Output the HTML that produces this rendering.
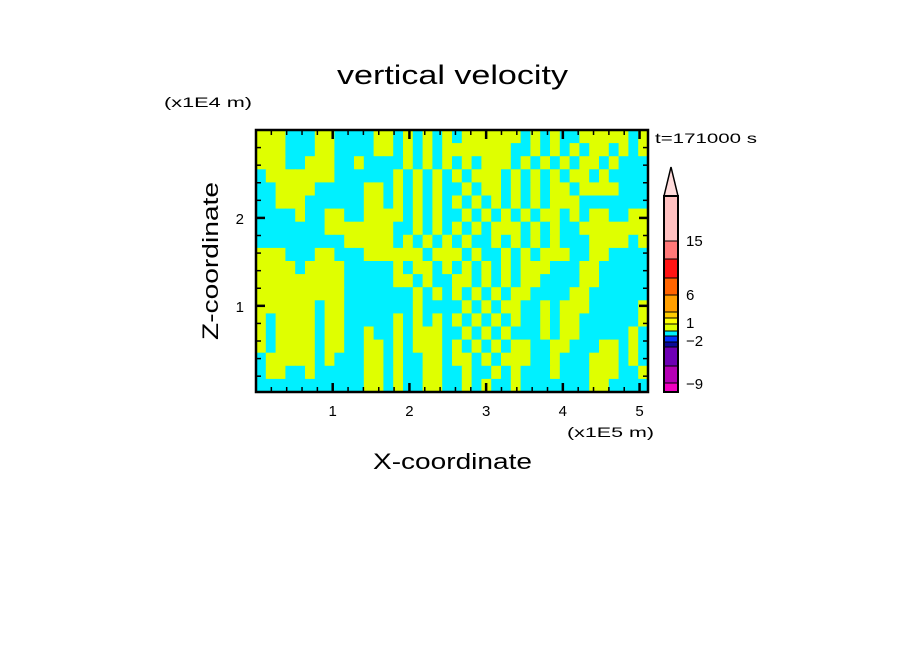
<!DOCTYPE html>
<html><head><meta charset="utf-8"><style>
html,body{margin:0;padding:0;background:#fff;}
svg{display:block;font-family:"Liberation Sans",sans-serif;}
</style></head><body>
<svg id="chart" width="904" height="654" viewBox="0 0 904 654" xmlns="http://www.w3.org/2000/svg">
<rect width="904" height="654" fill="#fff"/>
<text x="337" y="84" font-size="27" textLength="231" lengthAdjust="spacingAndGlyphs">vertical velocity</text>
<text x="164" y="107" font-size="14" textLength="88" lengthAdjust="spacingAndGlyphs">(x1E4 m)</text>
<text x="655" y="143" font-size="14" textLength="102" lengthAdjust="spacingAndGlyphs">t=171000 s</text>
<text x="567" y="437" font-size="14" textLength="87" lengthAdjust="spacingAndGlyphs">(x1E5 m)</text>
<text x="373" y="469" font-size="22" textLength="159" lengthAdjust="spacingAndGlyphs">X-coordinate</text>
<text transform="translate(218,340) rotate(-90)" font-size="22" textLength="158" lengthAdjust="spacingAndGlyphs">Z-coordinate</text>
<g id="field"></g>
<g id="axes"></g>
<g id="cbar"></g>
</svg>
<script>
// Field data: grid of sign classes (Y = weak positive, C = weak negative), top row first
const fieldRows = [
"YYYCCCYYCCCCYYCYCYCYCYYYYYYCYCYCCYYYYYCY",
"YYYCCCYYCCCCYYCYCYCYYYYYYYCCYCYCYCYYCYCY",
"YYYCCYYYCCYCCCCYCYCYCYCYYYCYCYCYCYYCYCCC",
"CYYYYYYYCCCCCCYCYCYCYCYYYCYCYCYCYYCYCCCC",
"CCYYYYCCCCCYYCYCYCYCCYCYYCYCYCYYCYYYYCCC",
"CCYYYCCCCCCYYCYCYCYCYCYCYCYCYCYYYCCCCCCC",
"CCCCYCCYYCCYYYYCYCYCCYCYCYCYCYYCYCYYCCYY",
"CCCCCCCYYYYYYYCCYCYCYCYCYYYCYCYCCYYYYYYY",
"CCCCCCCCCYYYYYCYCYCYCYCCYCYCYCYCCCYYYYCY",
"YYYCCCYYCCCYYYYYYCYYYCYCCYCYCYYYCCYYCCCC",
"YYYYCYYYYCCCCCYCYYCYCYCYCYCYYYCCCYYCCCCC",
"YYYYYYYYYCCCCCYYCYCCYYCYCYCYYCCCCYYCCCCC",
"YYYYYYYYYCCCCCCCYCYCYCYCYCYYCCCCYYCCCCCC",
"YYYYYYCYYCCCCCCCYCCCCYCYCYYCCYCYYYCCCCCY",
"YCYYYYCYYCCCCCYCYCYCYCYCYCYCCYCYYCCCCCCY",
"YCYYYYCYYCCYCCYCYYYCCYCYCYCCCYCYYCCCCCYC",
"YCYYYYCYYCCYYCYCYYYCYCYCYCYYCCYYCCCYYCYC",
"CYYYYYCYCCCYYCYCCYYCYYCYCYYYCCYCCCYYYCYC",
"CYYCCYCCCCCYYCYCCYYCCYCCYCYCCCYCCCYYYCCY",
"CCCCCCCCCCCYYCYCCYYCCYCYCCYCCCCCCCYYCCCC"
];
const classColors = {Y:"#dfff00", C:"#00f0ff"};
// Axis data
const xTicks = [1,2,3,4,5];
const yTicks = [1,2];
const xRange = [0.0, 5.11];
const yRange = [0.02, 3.0];
// Colorbar data (top to bottom)
const cbColors = ["#ffc0c0","#ff7878","#ff1414","#ff6400","#ff9f00","#ffcc00","#ffff00","#dfff00","#00f0ff","#0032ff","#0a0a96","#6e00b4","#b400b4","#f000c0"];
const cbBounds = [196,241,259,278,295,312,318,324,331,336,342,347,366,383,392];
const cbLabels = ["15","6","1","\u22122","\u22129"];
const cbLabelY = [241,295,323,341,384];

const NS="http://www.w3.org/2000/svg";
const PX0=256, PX1=648, PY0=130, PY1=392;
function sx(v){return PX0+(v-xRange[0])/(xRange[1]-xRange[0])*(PX1-PX0);}
function sy(v){return PY1-(v-yRange[0])/(yRange[1]-yRange[0])*(PY1-PY0);}
function mk(tag,attrs,parent){const e=document.createElementNS(NS,tag);for(const k in attrs)e.setAttribute(k,attrs[k]);parent.appendChild(e);return e;}

const field=document.getElementById('field');
const nr=fieldRows.length, nc=fieldRows[0].length;
const cw=(PX1-PX0)/nc, ch=(PY1-PY0)/nr;
for(let r=0;r<nr;r++){for(let c=0;c<nc;c++){
  const el=mk('rect',{x:(PX0+c*cw).toFixed(2),y:(PY0+r*ch).toFixed(2),width:(cw+0.6).toFixed(2),height:(ch+0.6).toFixed(2),fill:classColors[fieldRows[r][c]]},field);
  
  
}}

const axes=document.getElementById('axes');
const frame=mk('rect',{x:PX0,y:PY0,width:PX1-PX0,height:PY1-PY0,fill:'none',stroke:'#000','stroke-width':2.5},axes);


for(let v=0.2;v<xRange[1];v+=0.2){
  const X=sx(v); const major=Math.abs(v-Math.round(v))<1e-6; const L=major?9:5;
  mk('line',{x1:X,y1:PY1,x2:X,y2:PY1-L,stroke:'#000','stroke-width':major?2.5:1.5},axes);
  mk('line',{x1:X,y1:PY0,x2:X,y2:PY0+L,stroke:'#000','stroke-width':major?2.5:1.5},axes);
}
for(let v=0.2;v<yRange[1];v+=0.2){
  const Y=sy(v); const major=Math.abs(v-Math.round(v))<1e-6; const L=major?9:5;
  mk('line',{x1:PX0,y1:Y,x2:PX0+L,y2:Y,stroke:'#000','stroke-width':major?2.5:1.5},axes);
  mk('line',{x1:PX1,y1:Y,x2:PX1-L,y2:Y,stroke:'#000','stroke-width':major?2.5:1.5},axes);
}
xTicks.forEach(v=>{
  const t=mk('text',{x:sx(v),y:416,'font-size':15,'text-anchor':'middle'},axes); t.textContent=v;
  
  
});
yTicks.forEach(v=>{
  const t=mk('text',{x:244,y:sy(v)+6,'font-size':15,'text-anchor':'end'},axes); t.textContent=v;
  
  
});

const cb=document.getElementById('cbar');
const tri=mk('polygon',{points:'664,196 671,167 678,196',fill:'#ffdcdc',stroke:'#000','stroke-width':1.5},cb);


cbColors.forEach((col,i)=>{
  const r=mk('rect',{x:664,y:cbBounds[i],width:14,height:cbBounds[i+1]-cbBounds[i],fill:col,stroke:'#000','stroke-width':1},cb);
  
  
});
const cbf=mk('rect',{x:664,y:196,width:14,height:196,fill:'none',stroke:'#000','stroke-width':2},cb);


cbLabels.forEach((s,i)=>{
  const t=mk('text',{x:686,y:cbLabelY[i]+5,'font-size':15},cb); t.textContent=s;
  
  
});
</script>
</body></html>
